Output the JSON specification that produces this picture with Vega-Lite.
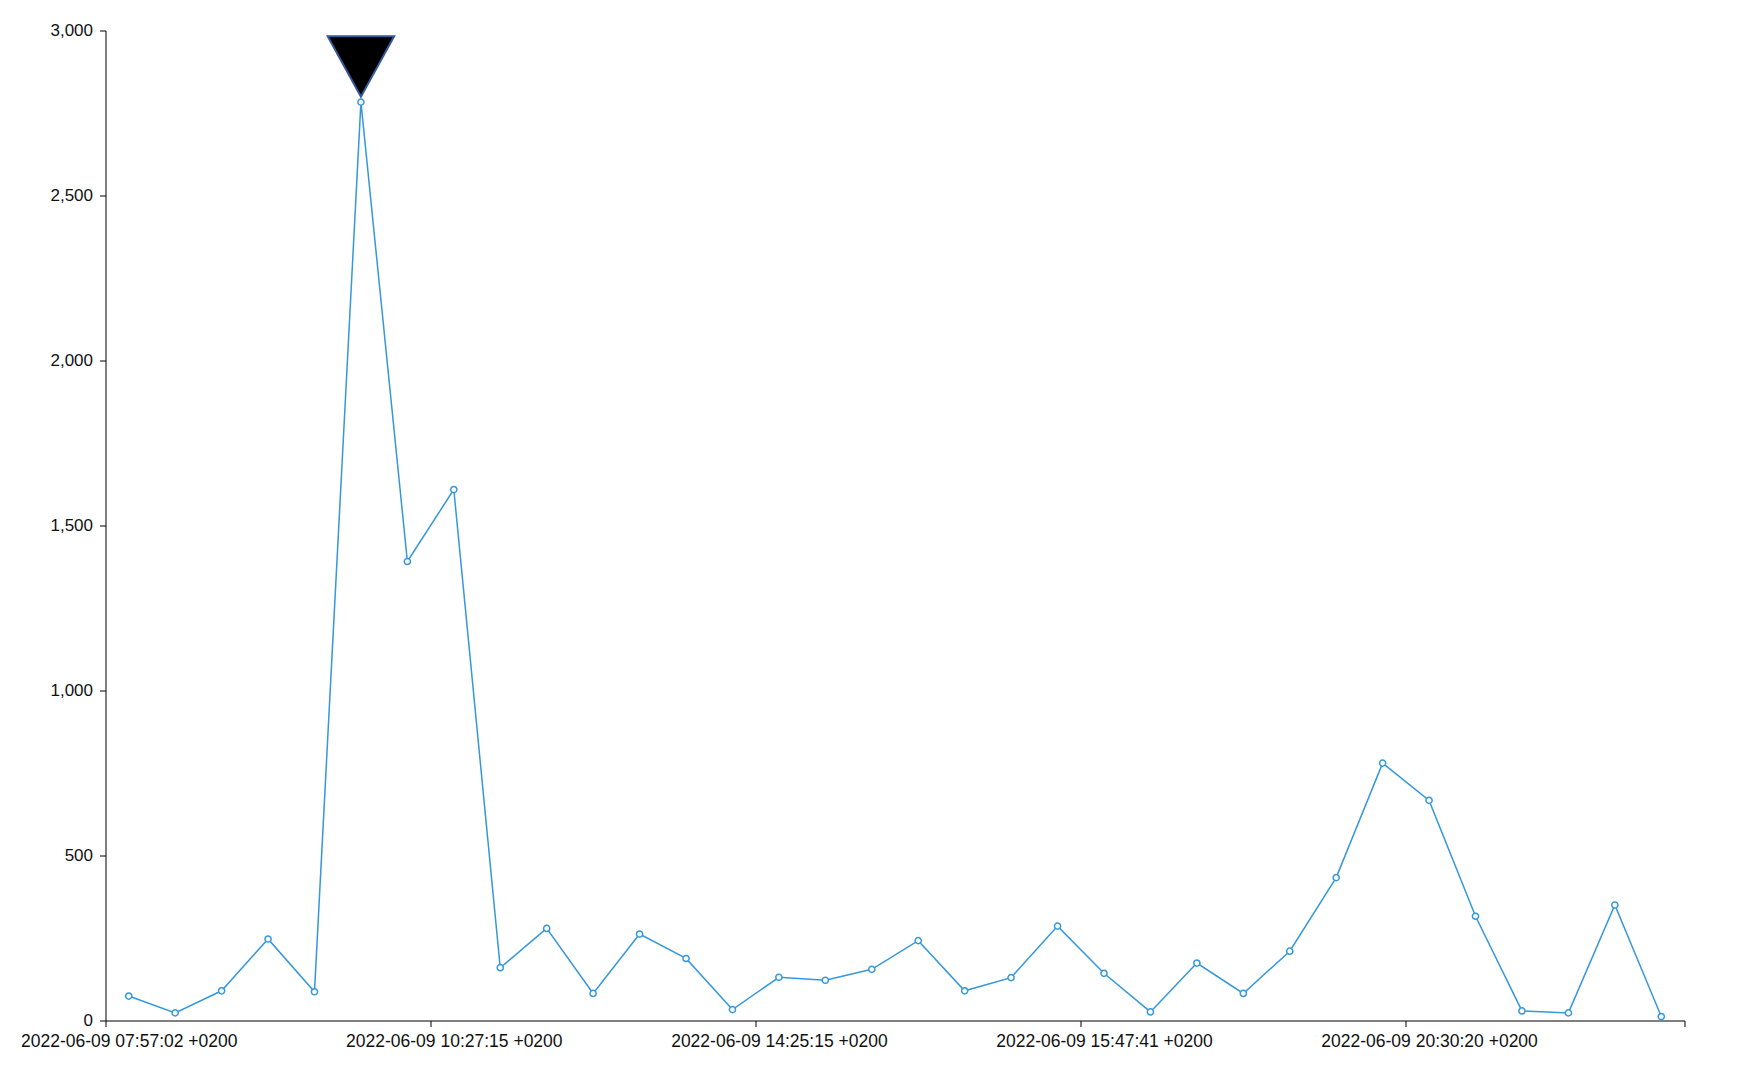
{
  "$schema": "https://vega.github.io/schema/vega-lite/v6.json",
  "width": 1579,
  "height": 990,
  "autosize": {"type": "none"},
  "padding": {"left": 105.5, "top": 30.5, "right": 63.5, "bottom": 59.5},
  "background": "white",
  "config": {
    "view": {"stroke": null},
    "axis": {"labelFont": "Liberation Sans", "grid": false, "domainColor": "#000", "tickColor": "#000", "labelColor": "#111", "domainWidth": 1, "tickWidth": 1, "labelLimit": 0}
  },
  "data": {
    "values": [
      {"time": "2022-06-09 07:57:02 +0200", "count": 74},
      {"time": "2022-06-09 08:19:40 +0200", "count": 23},
      {"time": "2022-06-09 08:41:13 +0200", "count": 90},
      {"time": "2022-06-09 09:02:55 +0200", "count": 247},
      {"time": "2022-06-09 09:24:08 +0200", "count": 87},
      {"time": "2022-06-09 09:45:31 +0200", "count": 2783},
      {"time": "2022-06-09 10:06:49 +0200", "count": 1391},
      {"time": "2022-06-09 10:27:15 +0200", "count": 1609},
      {"time": "2022-06-09 11:02:44 +0200", "count": 160},
      {"time": "2022-06-09 11:36:10 +0200", "count": 279},
      {"time": "2022-06-09 12:10:52 +0200", "count": 82},
      {"time": "2022-06-09 12:44:03 +0200", "count": 262},
      {"time": "2022-06-09 13:18:36 +0200", "count": 188},
      {"time": "2022-06-09 13:51:22 +0200", "count": 33},
      {"time": "2022-06-09 14:25:15 +0200", "count": 131},
      {"time": "2022-06-09 14:37:08 +0200", "count": 122},
      {"time": "2022-06-09 14:48:51 +0200", "count": 155},
      {"time": "2022-06-09 14:59:27 +0200", "count": 242},
      {"time": "2022-06-09 15:11:40 +0200", "count": 90},
      {"time": "2022-06-09 15:23:05 +0200", "count": 130},
      {"time": "2022-06-09 15:35:19 +0200", "count": 286},
      {"time": "2022-06-09 15:47:41 +0200", "count": 143},
      {"time": "2022-06-09 16:28:14 +0200", "count": 26},
      {"time": "2022-06-09 17:08:37 +0200", "count": 174},
      {"time": "2022-06-09 17:48:59 +0200", "count": 82},
      {"time": "2022-06-09 18:29:12 +0200", "count": 210},
      {"time": "2022-06-09 19:09:46 +0200", "count": 433},
      {"time": "2022-06-09 19:50:03 +0200", "count": 780},
      {"time": "2022-06-09 20:30:20 +0200", "count": 667},
      {"time": "2022-06-09 21:10:41 +0200", "count": 316},
      {"time": "2022-06-09 21:51:05 +0200", "count": 29},
      {"time": "2022-06-09 22:31:18 +0200", "count": 23},
      {"time": "2022-06-09 23:11:52 +0200", "count": 350},
      {"time": "2022-06-09 23:52:07 +0200", "count": 12}
    ]
  },
  "encoding": {
    "x": {
      "field": "time",
      "type": "ordinal",
      "sort": null,
      "bandPosition": 0.5,
      "scale": {"type": "band", "paddingInner": 0, "paddingOuter": 0},
      "axis": {
        "title": null,
        "tickBand": "extent",
        "labelAngle": 0,
        "labelFontSize": 17.5,
        "labelPadding": 6,
        "tickSize": 6,
        "labelOverlap": false,
        "labelBound": false,
        "labelExpr": "indexof(['2022-06-09 07:57:02 +0200','2022-06-09 10:27:15 +0200','2022-06-09 14:25:15 +0200','2022-06-09 15:47:41 +0200','2022-06-09 20:30:20 +0200'], datum.value) >= 0 ? datum.label : ''",
        "tickOpacity": {
          "condition": {"test": "datum.index < 0 || datum.extra || indexof(['2022-06-09 10:06:49 +0200','2022-06-09 13:51:22 +0200','2022-06-09 15:35:19 +0200','2022-06-09 19:50:03 +0200','2022-06-09 23:52:07 +0200'], datum.value) >= 0", "value": 1},
          "value": 0
        }
      }
    },
    "y": {
      "field": "count",
      "type": "quantitative",
      "scale": {"domain": [0, 3000]},
      "axis": {
        "title": null,
        "values": [0, 500, 1000, 1500, 2000, 2500, 3000],
        "format": ",.0f",
        "labelFontSize": 17,
        "labelPadding": 7,
        "tickSize": 6
      }
    }
  },
  "layer": [
    {
      "mark": {
        "type": "line",
        "color": "#3498db",
        "strokeWidth": 1.5,
        "point": {"filled": false, "fill": "white", "stroke": "#3498db", "size": 38, "strokeWidth": 1.5, "opacity": 1}
      }
    },
    {
      "transform": [
        {"joinaggregate": [{"op": "max", "field": "count", "as": "maxCount"}]},
        {"filter": "datum.count == datum.maxCount"}
      ],
      "mark": {
        "type": "point",
        "shape": "M-1,-0.91L1,-0.91L0,0.91Z",
        "filled": true,
        "fill": "#000",
        "stroke": "#34589a",
        "strokeWidth": 2,
        "size": 4422,
        "yOffset": -35.6,
        "opacity": 1
      }
    }
  ]
}
